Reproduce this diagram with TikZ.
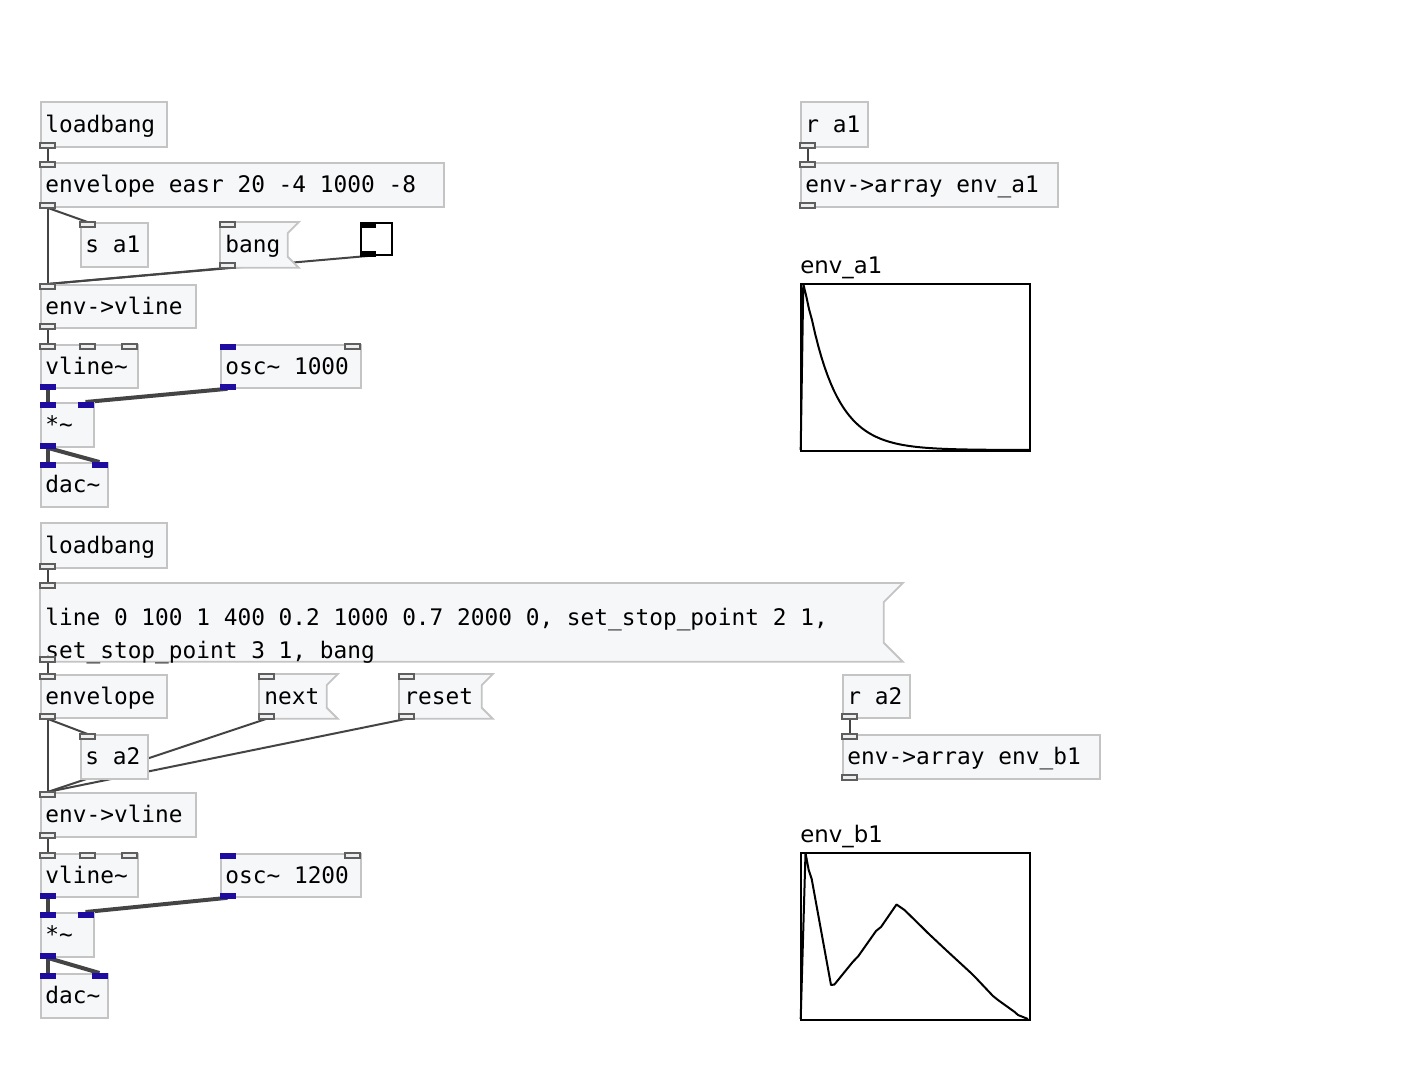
\documentclass[tikz,border=0pt]{standalone}
\usepackage{fontspec}
\newfontfamily\pdmono{DejaVu Sans Mono}
\newfontfamily\pdsans{DejaVu Sans}

\definecolor{boxfill}{HTML}{F6F7F9}
\definecolor{boxline}{HTML}{C4C4C4}
\definecolor{iofill}{HTML}{EEEEEE}
\definecolor{ioline}{HTML}{5E5E5E}
\definecolor{sigblue}{HTML}{1E0BA0}
\definecolor{cordgray}{HTML}{444444}

\pgfdeclarelayer{bg}
\pgfdeclarelayer{cords}
\pgfdeclarelayer{back}
\pgfsetlayers{bg,cords,back,main}

\tikzset{
  pdbox/.style 2 args={draw=boxline, fill=boxfill, line width=0.9pt, anchor=north west,
    inner sep=0pt, minimum width=#1*0.5pt, minimum height=#2*0.5pt},
  pdmsg/.style 2 args={pdbox={#1}{#2}, draw=none, fill=none},
  pdtext/.style={anchor=base west, inner sep=0pt, xshift=2.5pt, yshift=-4pt,
    font=\pdmono\fontsize{11.4}{14}\selectfont},
  msgline/.style={draw=boxline, fill=boxfill, line width=0.9pt},
  ctlio/.style={draw=ioline, fill=iofill, line width=0.7pt},
  sigio/.style={draw=sigblue, fill=sigblue, line width=0.3pt},
  guiio/.style={fill=black},
  ctlcord/.style={draw=cordgray, line width=1pt},
  sigcord/.style={draw=cordgray, line width=2pt},
  bngbox/.style={draw=black, fill=white, line width=1pt, anchor=north west, inner sep=0pt,
    minimum width=31*0.5pt, minimum height=32*0.5pt},
  graphbox/.style={draw=black, line width=1pt, anchor=north west, inner sep=0pt,
    minimum width=229*0.5pt, minimum height=167*0.5pt},
  arrlabel/.style={anchor=base west, inner sep=0pt, yshift=5pt,
    font=\pdsans\fontsize{11.4}{14}\selectfont},
  envcurve/.style={line width=1pt, line join=round}
}

% inlet / outlet: [style]{node}{index}{offset}
\newcommand{\pdin}[4][ctlio]{%
  \draw[#1] ([shift={(#4,0)}]#2.north west) rectangle ++(15,5);
  \coordinate (#2-i#3) at ([shift={(#4+7.5,0)}]#2.north west);}
\newcommand{\pdout}[4][ctlio]{%
  \draw[#1] ([shift={(#4,0)}]#2.south west) rectangle ++(15,-5);
  \coordinate (#2-o#3) at ([shift={(#4+7.5,0)}]#2.south west);}
% message box outline: {node}{corner}
\newcommand{\msgflag}[2]{%
  \begin{pgfonlayer}{back}
    \path[msgline] (#1.north west) -- (#1.north east) -- ++(-#2,#2)
      -- ([shift={(-#2,-#2)}]#1.south east) -- (#1.south east) -- (#1.south west) -- cycle;
  \end{pgfonlayer}}

\begin{document}
\begin{tikzpicture}[x=0.5pt, y=-0.5pt]

  \begin{pgfonlayer}{bg}
    \fill[white] (0,0) rectangle (1421,1088);
  \end{pgfonlayer}
  \useasboundingbox (0,0) rectangle (1421,1088);

  % top patch
  \node[pdbox={126}{45}, label={[pdtext]west:loadbang}] (loadA) at (40,101) {};
  \node[pdbox={403}{44}, label={[pdtext]west:envelope easr 20 -4 1000 -8}] (envA) at (40,162) {};
  \node[pdbox={67}{44}, label={[pdtext]west:s a1}] (sendA) at (80,222) {};
  \node[pdmsg={77}{44}, label={[pdtext]west:bang}] (bangA) at (220,222) {};
  \node[bngbox] (bngA) at (360,222) {};
  \node[pdbox={155}{43}, label={[pdtext]west:env->vline}] (toVlA) at (40,284) {};
  \node[pdbox={97}{43}, label={[pdtext]west:vline\textasciitilde}] (vlineA) at (40,344) {};
  \node[pdbox={140}{43}, label={[pdtext]west:osc\textasciitilde{} 1000}] (oscA) at (220,344) {};
  \node[pdbox={53}{44}, label={[pdtext]west:*\textasciitilde}] (mulA) at (40,402) {};
  \node[pdbox={67}{44}, label={[pdtext]west:dac\textasciitilde}] (dacA) at (40,462) {};

  \node[pdbox={67}{45}, label={[pdtext]west:r a1}] (recvA) at (800,101) {};
  \node[pdbox={257}{44}, label={[pdtext]west:env->array env\_a1}] (arrA) at (800,162) {};
  \node[graphbox, label={[arrlabel]north west:env\_a1}] (graphA) at (800,283) {};

  % bottom patch
  \node[pdbox={126}{45}, label={[pdtext]west:loadbang}] (loadB) at (40,522) {};
  \node[pdmsg={861}{77},
    label={[pdtext, yshift=2.25pt]west:{line 0 100 1 400 0.2 1000 0.7 2000 0, set\_stop\_point 2 1,}},
    label={[pdtext, yshift=-13.9pt]west:{set\_stop\_point 3 1, bang}}] (msgB) at (40,583) {};
  \node[pdbox={126}{43}, label={[pdtext]west:envelope}] (envB) at (40,674) {};
  \node[pdmsg={77}{43}, label={[pdtext]west:next}] (nextB) at (259,674) {};
  \node[pdmsg={92}{43}, label={[pdtext]west:reset}] (resetB) at (399,674) {};
  \node[pdbox={67}{44}, label={[pdtext]west:s a2}] (sendB) at (80,734) {};
  \node[pdbox={155}{44}, label={[pdtext]west:env->vline}] (toVlB) at (40,792) {};
  \node[pdbox={97}{43}, label={[pdtext]west:vline\textasciitilde}] (vlineB) at (40,853) {};
  \node[pdbox={140}{43}, label={[pdtext]west:osc\textasciitilde{} 1200}] (oscB) at (220,853) {};
  \node[pdbox={53}{44}, label={[pdtext]west:*\textasciitilde}] (mulB) at (40,912) {};
  \node[pdbox={67}{44}, label={[pdtext]west:dac\textasciitilde}] (dacB) at (40,973) {};

  \node[pdbox={67}{43}, label={[pdtext]west:r a2}] (recvB) at (842,674) {};
  \node[pdbox={257}{44}, label={[pdtext]west:env->array env\_b1}] (arrB) at (842,734) {};
  \node[graphbox, label={[arrlabel]north west:env\_b1}] (graphB) at (800,852) {};

  \msgflag{bangA}{11}
  \msgflag{nextB}{11}
  \msgflag{resetB}{11}
  \msgflag{msgB}{19}

  % iolets
  \pdout{loadA}{0}{0}
  \pdin{envA}{0}{0} \pdout{envA}{0}{0}
  \pdin{sendA}{0}{0}
  \pdin{bangA}{0}{0} \pdout{bangA}{0}{0}
  \pdin[guiio]{bngA}{0}{0} \pdout[guiio]{bngA}{0}{0}
  \pdout{recvA}{0}{0}
  \pdin{arrA}{0}{0} \pdout{arrA}{0}{0}

  \pdout{loadB}{0}{0}
  \pdin{msgB}{0}{0} \pdout{msgB}{0}{0}
  \pdin{envB}{0}{0} \pdout{envB}{0}{0}
  \pdin{nextB}{0}{0} \pdout{nextB}{0}{0}
  \pdin{resetB}{0}{0} \pdout{resetB}{0}{0}
  \pdin{sendB}{0}{0}
  \pdout{recvB}{0}{0}
  \pdin{arrB}{0}{0} \pdout{arrB}{0}{0}

  \foreach \p in {A,B} {
    \pdin{toVl\p}{0}{0} \pdout{toVl\p}{0}{0}
    \pdin{vline\p}{0}{0} \pdin{vline\p}{1}{40} \pdin{vline\p}{2}{82}
    \pdout[sigio]{vline\p}{0}{0}
    \pdin[sigio]{osc\p}{0}{0} \pdin{osc\p}{1}{125} \pdout[sigio]{osc\p}{0}{0}
    \pdin[sigio]{mul\p}{0}{0} \pdin[sigio]{mul\p}{1}{38} \pdout[sigio]{mul\p}{0}{0}
    \pdin[sigio]{dac\p}{0}{0} \pdin[sigio]{dac\p}{1}{52}
  }

  % cords
  \begin{pgfonlayer}{cords}
    \draw[ctlcord] (loadA-o0) -- (envA-i0);
    \draw[ctlcord] (envA-o0) -- (sendA-i0);
    \draw[ctlcord] (envA-o0) -- (toVlA-i0);
    \draw[ctlcord] (bangA-o0) -- (toVlA-i0);
    \draw[ctlcord] (bngA-o0) -- (toVlA-i0);
    \draw[ctlcord] (recvA-o0) -- (arrA-i0);

    \draw[ctlcord] (loadB-o0) -- (msgB-i0);
    \draw[ctlcord] (msgB-o0) -- (envB-i0);
    \draw[ctlcord] (envB-o0) -- (sendB-i0);
    \draw[ctlcord] (envB-o0) -- (toVlB-i0);
    \draw[ctlcord] (nextB-o0) -- (toVlB-i0);
    \draw[ctlcord] (resetB-o0) -- (toVlB-i0);
    \draw[ctlcord] (recvB-o0) -- (arrB-i0);

    \foreach \p in {A,B} {
      \draw[ctlcord] (toVl\p-o0) -- (vline\p-i0);
      \draw[sigcord] (vline\p-o0) -- (mul\p-i0);
      \draw[sigcord] (osc\p-o0) -- (mul\p-i1);
      \draw[sigcord] (mul\p-o0) -- (dac\p-i0);
      \draw[sigcord] (mul\p-o0) -- (dac\p-i1);
    }
  \end{pgfonlayer}

  % array plots
  \draw[envcurve] (800.7,450) -- (803.3,284) -- (806,295) -- (809,309)
    -- plot[domain=812:1029, samples=70] (\x, {450-130*exp(-(\x-812)/28)});
  \draw[envcurve] plot coordinates {(800.7,1019) (805.5,853) (808.7,870) (811.7,879)
    (831,985) (834.4,984.5) (852.7,962) (858.4,956) (876,931) (881,927) (896.5,904.5)
    (904.5,910) (922.9,928) (927.9,933) (946,950) (971,973) (976,978) (993,996)
    (998,1000) (1014.7,1012) (1018,1015) (1028,1019)};

\end{tikzpicture}
\end{document}
